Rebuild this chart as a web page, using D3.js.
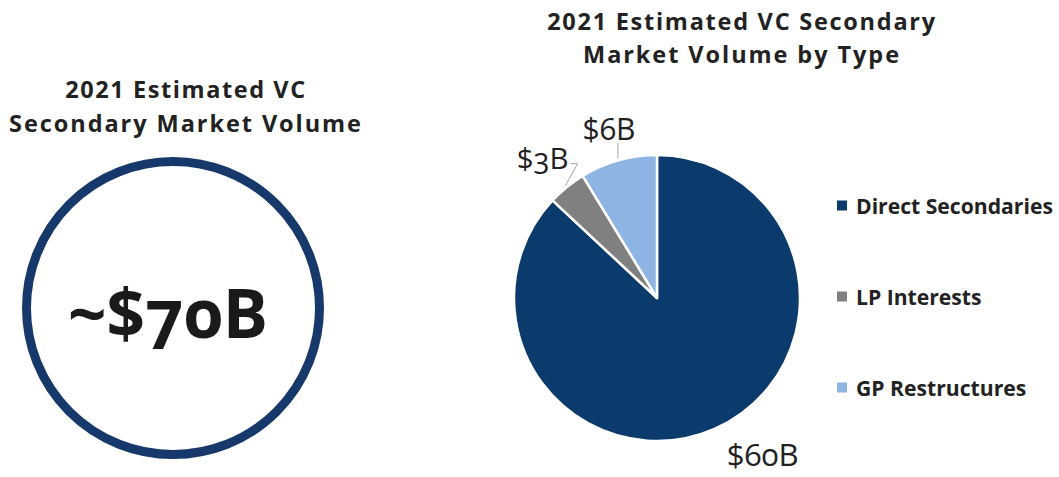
<!DOCTYPE html>
<html>
<head>
<meta charset="utf-8">
<script src="https://cdn.jsdelivr.net/npm/d3@7"></script>
<style>
  html, body { margin: 0; padding: 0; background: #fff; }
  svg { display: block; font-family: "Open Sans", "Lato", sans-serif; }
  .num { font-variant-numeric: oldstyle-nums; }
</style>
</head>
<body>
<svg id="chart" width="1059" height="477"></svg>
<script>
// Data
const totalLabel = '~$70B';
const leftTitle = ['2021 Estimated VC', 'Secondary Market Volume'];
const rightTitle = ['2021 Estimated VC Secondary', 'Market Volume by Type'];
const types = ['Direct Secondaries', 'LP Interests', 'GP Restructures'];
const volumes = [60, 3, 6];
const valueLabels = ['$60B', '$3B', '$6B'];

const COLORS = ['#0b3a6c', '#808080', '#8eb4e3'];
const TEXT = '#222';

const svg = d3.select('#chart');

// shrink/grow a text node so it spans the given width
function fitText(sel, width) {
  const node = sel.node();
  const size = parseFloat(sel.attr('font-size'));
  const len = node.getComputedTextLength();
  if (len > 0) sel.attr('font-size', (size * width / len).toFixed(2));
  return sel;
}

// keep font size, stretch with letter spacing instead (titles are tightly stacked)
function spaceText(sel, width) {
  const node = sel.node();
  const len = node.getComputedTextLength();
  const n = node.textContent.length;
  if (len > 0 && n > 1) sel.attr('letter-spacing', ((width - len) / (n - 1)).toFixed(2));
  return sel;
}

// ---- left panel: total volume circle ----
const left = { cx: 173, cy: 308, r: 146.5 };

const leftTitleSpec = [
  { y: 98, w: 240 },
  { y: 132, w: 352 }
];
leftTitle.forEach((t, i) => {
  const s = svg.append('text')
    .attr('x', 186)
    .attr('y', leftTitleSpec[i].y)
    .attr('text-anchor', 'middle')
    .attr('font-size', 23.5)
    .attr('font-weight', 700)
    .attr('fill', TEXT)
    .text(t);
  spaceText(s, leftTitleSpec[i].w);
});

svg.append('circle')
  .attr('cx', left.cx)
  .attr('cy', left.cy)
  .attr('r', left.r)
  .attr('fill', 'none')
  .attr('stroke', '#17386a')
  .attr('stroke-width', 9);

const big = svg.append('text')
  .attr('class', 'num')
  .attr('x', 168)
  .attr('y', 338)
  .attr('text-anchor', 'middle')
  .attr('font-size', 64)
  .attr('font-weight', 700)
  .attr('fill', '#1a1a1a')
  .text(totalLabel);
fitText(big, 200);

// ---- right panel: pie by type ----
const rightTitleSpec = [
  { y: 30, w: 388 },
  { y: 63, w: 316 }
];
rightTitle.forEach((t, i) => {
  const s = svg.append('text')
    .attr('x', 742)
    .attr('y', rightTitleSpec[i].y)
    .attr('text-anchor', 'middle')
    .attr('font-size', 23.5)
    .attr('font-weight', 700)
    .attr('fill', TEXT)
    .text(t);
  spaceText(s, rightTitleSpec[i].w);
});

const pieCx = 657, pieCy = 298, pieR = 143;
const pie = d3.pie().sort(null).value(d => d);
const arcs = pie(volumes);
const arc = d3.arc().innerRadius(0).outerRadius(pieR);

const g = svg.append('g').attr('transform', `translate(${pieCx},${pieCy})`);

g.selectAll('path')
  .data(arcs)
  .enter()
  .append('path')
  .attr('d', arc)
  .attr('fill', (d, i) => COLORS[i])
  .attr('stroke', '#fff')
  .attr('stroke-width', 2.5)
  .attr('stroke-linejoin', 'round');

// label placement: radius along slice mid-angle plus small nudges
const labelLayout = [
  { r: 190, dx: 30, dy: -18, w: 72, leader: false },
  { r: 186, dx: 3, dy: 4, w: 52, leader: true, elbow: 7 },
  { r: 178, dx: 0, dy: 2, w: 53, leader: true, elbow: 0 }
];

const midAngle = d => (d.startAngle + d.endAngle) / 2;
const polar = (a, r) => [Math.sin(a) * r, -Math.cos(a) * r];

arcs.forEach((d, i) => {
  const L = labelLayout[i];
  const a = midAngle(d);
  const [px, py] = polar(a, L.r);
  const x = px + L.dx, y = py + L.dy;

  const t = g.append('text')
    .attr('class', 'num')
    .attr('x', x)
    .attr('y', y)
    .attr('text-anchor', 'middle')
    .attr('dominant-baseline', 'central')
    .attr('font-size', 24)
    .attr('fill', TEXT)
    .text(valueLabels[i]);
  fitText(t, L.w);

  if (L.leader) {
    const [ex, ey] = polar(a, pieR + 2);
    let pts;
    if (L.elbow) {
      const sx = x + L.w / 2 + 2, sy = y + 6;
      pts = [[sx, sy], [sx + L.elbow, sy], [ex, ey]];
    } else {
      pts = [[ex, y + 14], [ex, ey]];
    }
    g.append('path')
      .attr('d', d3.line()(pts))
      .attr('fill', 'none')
      .attr('stroke', '#a6a6a6')
      .attr('stroke-width', 1);
  }
});

// legend
const legendY = d3.scalePoint().domain(types).range([205, 387]);
const legend = svg.append('g');
types.forEach((t, i) => {
  const y = legendY(t);
  legend.append('rect')
    .attr('x', 837)
    .attr('y', y - 4.5)
    .attr('width', 10)
    .attr('height', 10)
    .attr('fill', COLORS[i]);
  legend.append('text')
    .attr('x', 856)
    .attr('y', y)
    .attr('dominant-baseline', 'central')
    .attr('font-size', 20)
    .attr('font-weight', 700)
    .attr('fill', TEXT)
    .text(t);
});
// scale legend text so the longest item spans the same width as the reference
const legendTexts = legend.selectAll('text');
const longest = d3.max(legendTexts.nodes(), n => n.getComputedTextLength());
legendTexts.attr('font-size', (20 * 197 / longest).toFixed(2));
</script>
</body>
</html>
